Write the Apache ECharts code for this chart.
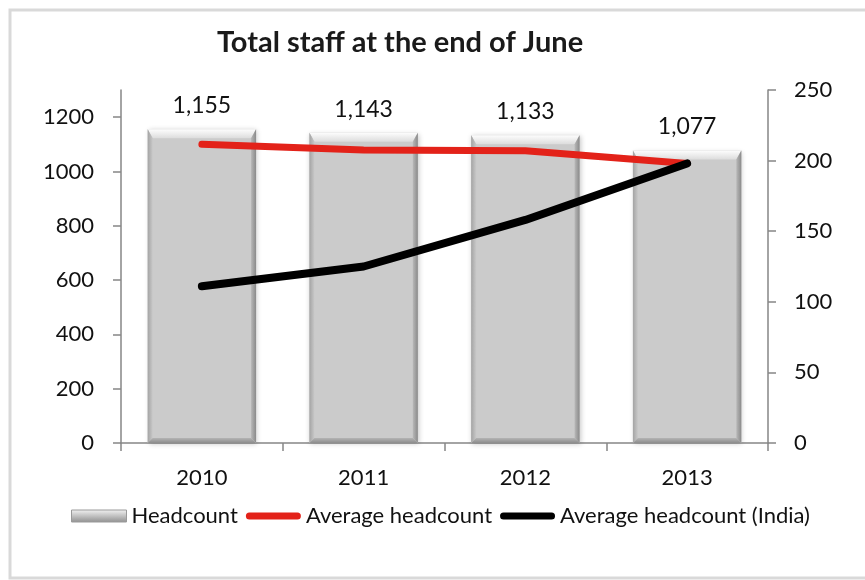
<!DOCTYPE html>
<html>
<head>
<meta charset="utf-8">
<script src="https://cdn.jsdelivr.net/npm/echarts@6/dist/echarts.min.js"></script>
<style>
html,body{margin:0;padding:0;background:#fff;}
#chart{width:865px;height:580px;}
</style>
</head>
<body>
<div id="chart"></div>
<script>
const categories = ['2010', '2011', '2012', '2013'];
const headcount = [1155, 1143, 1133, 1077];
const avgHeadcount = [211.5, 207.5, 207, 198];
const avgHeadcountIndia = [111, 125, 158, 198];
const leftTicks = [0, 200, 400, 600, 800, 1000, 1200];
const seriesNames = ['Headcount', 'Average headcount', 'Average headcount (India)'];
const titleText = 'Total staff at the end of June';

const FONT = 'Lato';
const BAR_RATIO = 0.67;
const BEVEL_TOP = 9;
const BEVEL_SIDE = 5;
const BEVEL_BOTTOM = 5;
const chart = echarts.init(document.getElementById('chart'), null, {renderer: 'canvas'});

const legendBarGradient = new echarts.graphic.LinearGradient(0, 0, 0, 1, [
  {offset: 0, color: '#f4f4f4'},
  {offset: 0.35, color: '#d0d0d0'},
  {offset: 1, color: '#8f8f8f'}
]);
const LINE_ICON = 'path://M3.5,0 H51.5 A3.5,3.5 0 0 1 51.5,7 H3.5 A3.5,3.5 0 0 1 3.5,0 Z';

function renderBevel(params, api) {
  const idx = api.value(0);
  const val = api.value(1);
  const top = api.coord([idx, val]);
  const base = api.coord([idx, 0]);
  const w = api.size([1, 0])[0] * BAR_RATIO;
  const x0 = top[0] - w / 2, x1 = top[0] + w / 2;
  const yt = top[1], yb = base[1];
  const bt = BEVEL_TOP, bs = BEVEL_SIDE, bb = BEVEL_BOTTOM;
  return {
    type: 'group',
    children: [{
      type: 'polygon',
      shape: {points: [[x0, yt], [x1, yt], [x1 - bs, yt + bt], [x0 + bs, yt + bt]]},
      style: {fill: new echarts.graphic.LinearGradient(0, 0, 0, 1, [
        {offset: 0, color: '#fdfdfd'}, {offset: 1, color: '#dcdcdc'}])}
    }, {
      type: 'polygon',
      shape: {points: [[x0, yt], [x0 + bs, yt + bt], [x0 + bs, yb - bb], [x0, yb]]},
      style: {fill: new echarts.graphic.LinearGradient(0, 0, 1, 0, [
        {offset: 0, color: '#a4a4a4'}, {offset: 1, color: '#c8c8c8'}])}
    }, {
      type: 'polygon',
      shape: {points: [[x1, yt], [x1, yb], [x1 - bs, yb - bb], [x1 - bs, yt + bt]]},
      style: {fill: new echarts.graphic.LinearGradient(0, 0, 1, 0, [
        {offset: 0, color: '#b8b8b8'}, {offset: 1, color: '#8a8a8a'}])}
    }, {
      type: 'polygon',
      shape: {points: [[x0, yb], [x0 + bs, yb - bb], [x1 - bs, yb - bb], [x1, yb]]},
      style: {fill: new echarts.graphic.LinearGradient(0, 0, 0, 1, [
        {offset: 0, color: '#b4b4b4'}, {offset: 1, color: '#8c8c8c'}])}
    }]
  };
}

chart.setOption({
  backgroundColor: '#ffffff',
  animation: false,
  textStyle: {fontFamily: FONT},
  graphic: [{
    type: 'rect',
    shape: {x: 10, y: 10, width: 860, height: 568},
    style: {fill: 'none', stroke: '#d9d9d9', lineWidth: 3},
    silent: true
  }],
  title: {
    text: titleText,
    left: 395,
    textAlign: 'center',
    top: 23,
    textStyle: {fontFamily: FONT, fontSize: 29, fontWeight: 'bold', color: '#1a1a1a'}
  },
  legend: {
    bottom: 48,
    left: 66,
    itemWidth: 55,
    itemHeight: 12,
    itemGap: 8,
    symbolKeepAspect: true,
    textStyle: {fontFamily: FONT, fontSize: 22, color: '#111'},
    data: [
      {name: seriesNames[0], icon: 'rect', itemStyle: {color: legendBarGradient, borderColor: '#9a9a9a', borderWidth: 1}},
      {name: seriesNames[1], icon: LINE_ICON, itemStyle: {color: '#e32219', borderWidth: 0}},
      {name: seriesNames[2], icon: LINE_ICON, itemStyle: {color: '#000000', borderWidth: 0}}
    ]
  },
  grid: {left: 121, right: 97, top: 90, bottom: 137, containLabel: false},
  xAxis: {
    type: 'category',
    data: categories,
    axisLine: {lineStyle: {color: '#868686', width: 1.5}},
    axisTick: {show: true, length: 8, lineStyle: {color: '#868686', width: 1.5}},
    axisLabel: {fontFamily: FONT, fontSize: 22, color: '#111', margin: 24}
  },
  yAxis: [{
    type: 'value',
    min: 0,
    max: 1300,
    splitLine: {show: false},
    axisLine: {show: true, lineStyle: {color: '#868686', width: 1.5}},
    axisTick: {show: true, length: 8, customValues: leftTicks, lineStyle: {color: '#868686', width: 1.5}},
    axisLabel: {fontFamily: FONT, fontSize: 22, color: '#111', margin: 27, customValues: leftTicks,
      formatter: v => String(v)}
  }, {
    type: 'value',
    min: 0,
    max: 250,
    interval: 50,
    position: 'right',
    splitLine: {show: false},
    axisLine: {show: true, lineStyle: {color: '#868686', width: 1.5}},
    axisTick: {show: true, length: 8, lineStyle: {color: '#868686', width: 1.5}},
    axisLabel: {fontFamily: FONT, fontSize: 22, color: '#111', margin: 26, formatter: v => String(v)}
  }],
  series: [{
    name: seriesNames[0],
    type: 'bar',
    z: 2,
    data: headcount,
    barWidth: (BAR_RATIO * 100) + '%',
    itemStyle: {
      color: '#cbcbcb',
      shadowColor: 'rgba(0,0,0,0.22)',
      shadowBlur: 5,
      shadowOffsetX: 1,
      shadowOffsetY: 1
    },
    label: {
      show: true,
      position: 'top',
      distance: 12,
      fontFamily: FONT,
      fontSize: 23,
      color: '#111',
      formatter: p => p.value.toLocaleString('en-US')
    }
  }, {
    name: 'bevel',
    type: 'custom',
    z: 3,
    silent: true,
    renderItem: renderBevel,
    data: categories.map((c, i) => [i, headcount[i]]),
    encode: {x: 0, y: 1}
  }, {
    name: seriesNames[1],
    type: 'line',
    z: 5,
    yAxisIndex: 1,
    data: avgHeadcount,
    symbol: 'none',
    lineStyle: {color: '#e32219', width: 7, cap: 'round', join: 'round'},
    itemStyle: {color: '#e32219'}
  }, {
    name: seriesNames[2],
    type: 'line',
    z: 6,
    yAxisIndex: 1,
    data: avgHeadcountIndia,
    symbol: 'none',
    lineStyle: {color: '#000000', width: 8, cap: 'round', join: 'round'},
    itemStyle: {color: '#000000'}
  }]
});
</script>
</body>
</html>
